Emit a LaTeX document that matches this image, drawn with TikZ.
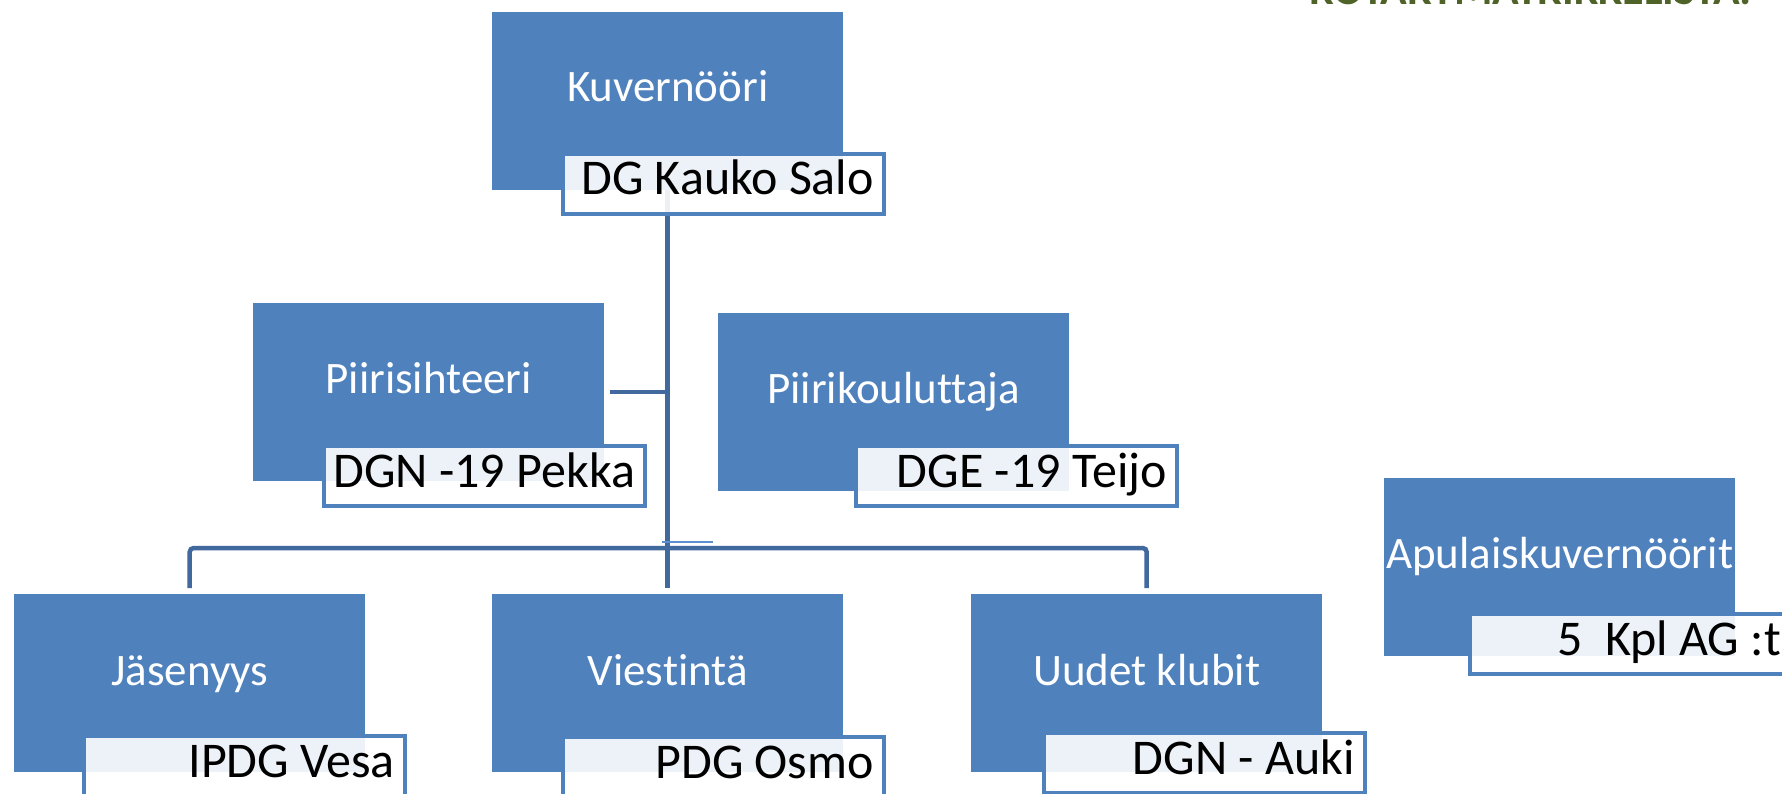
\documentclass[tikz,border=0pt]{standalone}
\usepackage{fontspec}
\setmainfont{Carlito}[Ligatures=NoCommon]
\usetikzlibrary{calc}
\definecolor{boxblue}{HTML}{4F81BD}
\definecolor{connblue}{HTML}{41699E}
\definecolor{thinblue}{HTML}{5B8FD0}
\definecolor{titlegreen}{HTML}{4F6228}
\tikzset{
  mainbox/.style={draw=none, fill=boxblue, minimum width=351pt, minimum height=178pt, anchor=north west, inner sep=0pt},
  maintext/.style={text=white, font=\fontsize{45}{50}\selectfont, anchor=base, inner sep=0pt},
  lblbox/.style={draw=boxblue, line width=4pt, fill=white, fill opacity=0.9, minimum width=321pt, minimum height=60pt, anchor=north west, inner sep=0pt},
  lbltext/.style={text=black, font=\fontsize{50}{56}\selectfont, anchor=base east, inner sep=0pt},
  conn/.style={draw=connblue, line width=4.5pt},
}
\begin{document}
\begin{tikzpicture}[x=1pt, y=-1pt]
\useasboundingbox (0,0) rectangle (1782,794);
% boxes (positioned)
\node[mainbox] (kuv) at (492,12) {};
\node[mainbox] (piiri) at (253,303) {};
\node[mainbox] (kou) at (718,313) {};
\node[mainbox] (apu) at (1384,478) {};
\node[mainbox] (jas) at (14,594) {};
\node[mainbox] (viest) at (492,594) {};
\node[mainbox] (uud) at (971,594) {};
% connectors
\coordinate (busmid) at (668,548);
\draw[conn] (kuv.south) -- ($(viest.north)+(0,-6)$);
\draw[conn, rounded corners=4pt] ($(jas.north)+(0,-6)$) |- (busmid) -| ($(uud.north)+(0,-6)$);
\draw[conn] ($(piiri.east)+(6,0)$) -- (kuv.south |- piiri.east);
\coordinate (strayA) at (662,542);
\coordinate (strayB) at (713,542);
\draw[draw=thinblue, line width=1.5pt] (strayA) -- (strayB);
% redraw boxes above connectors
\fill[boxblue] (kuv.north west) rectangle (kuv.south east);
\fill[boxblue] (piiri.north west) rectangle (piiri.south east);
\fill[boxblue] (kou.north west) rectangle (kou.south east);
\fill[boxblue] (apu.north west) rectangle (apu.south east);
\fill[boxblue] (jas.north west) rectangle (jas.south east);
\fill[boxblue] (viest.north west) rectangle (viest.south east);
\fill[boxblue] (uud.north west) rectangle (uud.south east);
% main texts
\node[maintext] (kuvT) at ($(kuv.north)+(0,90)$) {Kuvernööri};
\node[maintext] (piiriT) at ($(piiri.north)+(0,90)$) {Piirisihteeri};
\node[maintext] (kouT) at ($(kou.north)+(0,90)$) {Piirikouluttaja};
\node[maintext] (apuT) at ($(apu.north)+(0,90)$) {Apulaiskuvernöörit};
\node[maintext] (jasT) at ($(jas.north)+(0,91)$) {Jäsenyys};
\node[maintext] (viestT) at ($(viest.north)+(0,91)$) {Viestintä};
\node[maintext] (uudT) at ($(uud.north)+(0,91)$) {Uudet klubit};
% labels
\node[lblbox] (kauko) at (561,152) {};
\node[lblbox] (pekka) at (322,444) {};
\node[lblbox] (teijo) at (854,444) {};
\node[lblbox] (ag) at (1468,612) {};
\node[lblbox] (vesa) at (82,734) {};
\node[lblbox] (osmo) at (561,735) {};
\node[lblbox] (auki) at (1042,731) {};
\node[lbltext] (kaukoT) at ($(kauko.north east)+(-12,43)$) {DG Kauko Salo};
\node[lbltext] (pekkaT) at ($(pekka.north east)+(-12,43)$) {DGN -19 Pekka};
\node[lbltext] (teijoT) at ($(teijo.north east)+(-12,43)$) {DGE -19 Teijo};
\node[lbltext] (agT) at ($(ag.north east)+(-12,43)$) {5\ \ Kpl AG :t};
\node[lbltext] (vesaT) at ($(vesa.north east)+(-12,43)$) {IPDG Vesa};
\node[lbltext] (osmoT) at ($(osmo.north east)+(-12,43)$) {PDG Osmo};
\node[lbltext] (aukiT) at ($(auki.north east)+(-12,43)$) {DGN - Auki};
% cut-off title at top right
\node[text=titlegreen, font=\bfseries\fontsize{44}{50}\selectfont, anchor=base east, inner sep=0pt] (title) at (1752,5) {ROTARYMATRIKKELISTA:};
\end{tikzpicture}
\end{document}
